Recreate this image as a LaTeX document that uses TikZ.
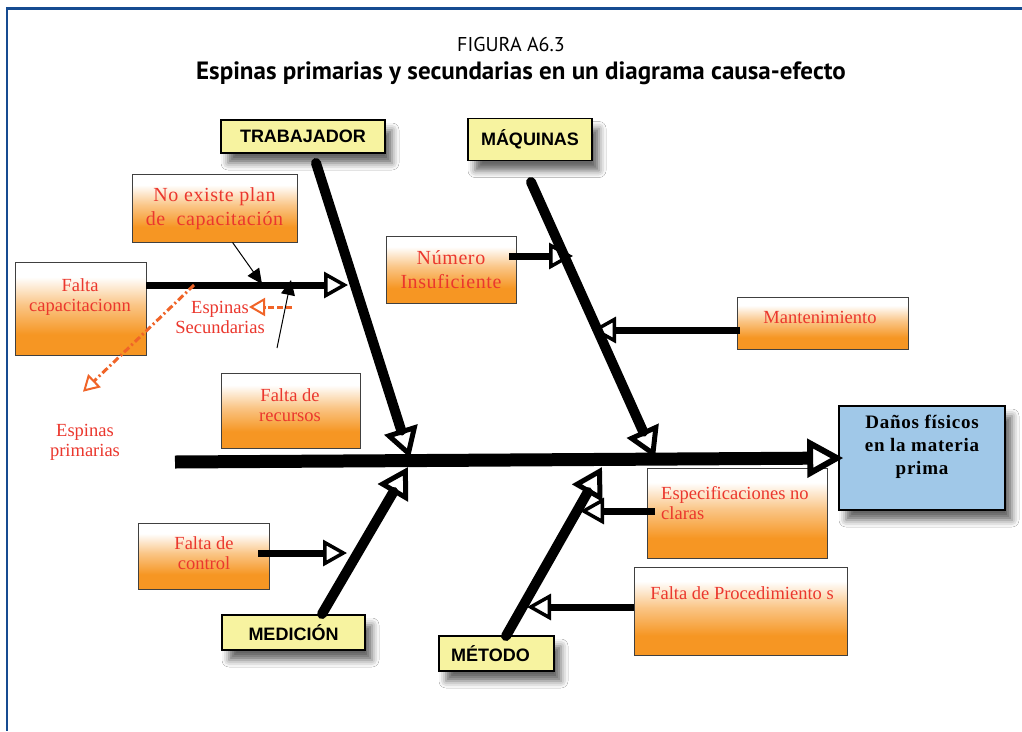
\documentclass[tikz,border=0pt]{standalone}
\usepackage{fontspec}
\setmainfont{Liberation Serif}
\newfontfamily\labelfont{Liberation Sans}
\newfontfamily\titlefont{PT Sans}
\usetikzlibrary{arrows.meta,shadows.blur,calc}

\definecolor{frameblue}{RGB}{22,75,145}
\definecolor{catyellow}{RGB}{247,243,160}
\definecolor{effblue}{RGB}{160,200,232}
\definecolor{causeorange}{RGB}{246,150,35}
\definecolor{causered}{RGB}{235,55,45}
\definecolor{noteorange}{RGB}{240,100,40}

% white at the top fading into orange at the bottom
\pgfdeclareverticalshading{causegrad}{100bp}{color(0bp)=(causeorange); color(25bp)=(causeorange); color(36bp)=(causeorange); color(52bp)=(causeorange!55!white); color(67bp)=(white); color(100bp)=(white)}

\tikzset{
  category/.style={draw=black, line width=1.6pt, fill=catyellow, inner sep=0pt,
    font=\labelfont\bfseries\fontsize{18}{20}\selectfont,
    blur shadow={shadow xshift=7pt, shadow yshift=-10pt, shadow blur radius=7pt, shadow opacity=60}},
  effect/.style={draw=black, line width=1.6pt, fill=effblue, inner sep=0pt,
    blur shadow={shadow xshift=7pt, shadow yshift=-10pt, shadow blur radius=7pt, shadow opacity=60}},
  causebox/.style={draw=black!75, line width=0.9pt, shading=causegrad, inner sep=0pt},
  causetext/.style={text=causered, font=\fontsize{18.5}{20}\selectfont, align=center, inner sep=0pt},
  bone/.style={line width=10pt, -{Triangle[open, length=30pt, width=34pt, line width=5pt]}},
  subbone/.style={line width=7pt, -{Triangle[open, length=24pt, width=26pt, line width=3.5pt]}},
  spine/.style={line width=13pt, -{Triangle[open, length=36pt, width=38pt, line width=6pt]}},
  pointer/.style={line width=1pt, -{Triangle[length=15pt, width=14pt]}},
  noteline/.style={noteorange, line width=3pt, -{Triangle[open, length=16pt, width=18pt, line width=2pt]}},
}

\begin{document}
\begin{tikzpicture}[x=1pt, y=-1pt]
\useasboundingbox (0,0) rectangle (1022,731);
\fill[white] (0,0) rectangle (1022,731);

% frame
\draw[frameblue, line width=3pt] (6,8.5) -- (1022,8.5);
\draw[frameblue, line width=2pt] (7,8) -- (7,731);

% title
\node[font=\titlefont\fontsize{20}{22}\selectfont] (fig) at (511,44) {FIGURA A6.3};
\node[font=\titlefont\bfseries\fontsize{25}{27}\selectfont] (title) at (521,73) {Espinas primarias y secundarias en un diagrama causa-efecto};

% categories and effect
\node[category, minimum width=164pt, minimum height=33pt] (trab) at (303,136.5) {TRABAJADOR};
\node[category, minimum width=124pt, minimum height=42pt] (maq) at (530,139.5) {\raisebox{3pt}{MÁQUINAS}};
\node[category, minimum width=143pt, minimum height=35pt] (med) at (293.5,632.5) {MEDICIÓN};
\node[category, minimum width=115pt, minimum height=35pt] (met) at (496.5,653.5) {\hspace*{-12pt}MÉTODO};
\node[effect, minimum width=166pt, minimum height=104pt] (eff) at (922,458) {};
\node[font=\bfseries\fontsize{19}{23}\selectfont\addfontfeature{LetterSpace=4}, align=center, anchor=north] (efftxt) at (922,412) {Daños físicos\\en la materia\\prima};

% cause boxes
\node[causebox, minimum width=165pt, minimum height=68pt] (noplan) at (214.5,208) {};
\node[causebox, minimum width=131pt, minimum height=93pt] (cap) at (80.5,308.5) {};
\node[causebox, minimum width=139pt, minimum height=75pt] (rec) at (290.5,410.5) {};
\node[causebox, minimum width=130pt, minimum height=67pt] (num) at (451,269.5) {};
\node[causebox, minimum width=171pt, minimum height=52pt] (mant) at (822.5,323) {};
\node[causebox, minimum width=180pt, minimum height=90pt] (espec) at (737,513) {};
\node[causebox, minimum width=213pt, minimum height=88pt] (proc) at (740.5,611) {};
\node[causebox, minimum width=131pt, minimum height=66pt] (ctrl) at (203.5,556) {};

% cause texts
\node[causetext, font=\fontsize{20}{24}\selectfont\addfontfeature{LetterSpace=3}] (noplantxt) at (214.5,209) {No existe plan\\de~ capacitación};
\node[causetext] (captxt) at (80,297) {Falta\\capacitacionn};
\node[causetext] (rectxt) at (290,405) {Falta de\\recursos};
\node[causetext, font=\fontsize{20}{24}\selectfont\addfontfeature{LetterSpace=3}] (numtxt) at (451,270) {Número\\Insuficiente};
\node[causetext] (manttxt) at (820,317) {Mantenimiento};
\node[causetext, align=left, anchor=west] (espectxt) at (661,503) {Especificaciones no\\claras};
\node[causetext] (proctxt) at (742,593) {Falta de Procedimiento s};
\node[causetext] (ctrltxt) at (204,553) {Falta de\\control};

% spine and primary bones
\coordinate (tail) at (175,462);
\draw[spine] (tail) -- ($(eff.west)+(5,0)$);

\coordinate (bT) at (316,163);  \coordinate (sT) at (410,458);
\coordinate (bM) at (531,182);  \coordinate (sM) at (655,458);
\coordinate (bD) at (322,614);  \coordinate (sD) at (408,467);
\coordinate (bO) at (506,636);  \coordinate (sO) at (602,467);
\draw[bone, line cap=round] (bT) -- (sT);
\draw[bone, line cap=round] (bM) -- (sM);
\draw[bone, line cap=round] (bD) -- (sD);
\draw[bone, line cap=round] (bO) -- (sO);

% secondary bones
\coordinate (onT) at (348,285);
\coordinate (onM1) at (573,256);
\coordinate (onM2) at (592,330);
\coordinate (onO1) at (580,511);
\coordinate (onO2) at (527,607);
\coordinate (onD) at (347,553);
\draw[subbone] (cap.north east |- onT) -- (onT);
\draw[subbone] ($(num.east |- onM1)+(-7,0)$) -- (onM1);
\draw[subbone] ($(mant.west |- onM2)+(3,0)$) -- (onM2);
\draw[subbone] ($(espec.west |- onO1)+(8,0)$) -- (onO1);
\draw[subbone] (proc.west |- onO2) -- (onO2);
\draw[subbone] ($(ctrl.east |- onD)+(-11,0)$) -- (onD);

% thin pointers to the secondary bone
\coordinate (ptA) at (262,284);
\coordinate (ptB) at (291,280);
\coordinate (ptBfoot) at (277,348);
\draw[pointer] ($(noplan.south west)+(101,0)$) -- (ptA);
\draw[pointer] (ptBfoot) -- (ptB);

% notes
\node[causetext] (secnote) at (220,317) {Espinas\\Secundarias};
\node[causetext] (primnote) at (85,442) {Espinas\\primarias};
\coordinate (secfrom) at (292,307);
\coordinate (secto) at (249,307);
\coordinate (primfrom) at (194,285);
\draw[noteline, dash pattern=on 6pt off 3pt] (secfrom) -- (secto);
\draw[noteline, dash pattern=on 7pt off 3pt on 2pt off 3pt] (primfrom) -- ($(primnote.north)+(-2,-32)$);
\end{tikzpicture}
\end{document}
